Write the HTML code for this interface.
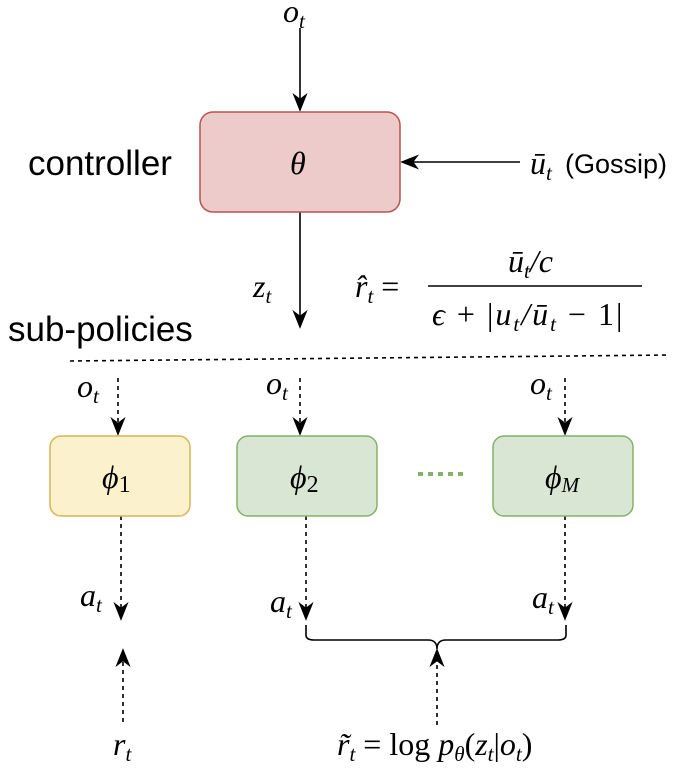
<!DOCTYPE html>
<html><head><meta charset="utf-8"><style>
body{margin:0;background:#fff}
svg text{font-family:"Liberation Serif",serif;font-style:italic}
.s{font-family:"Liberation Sans",sans-serif;font-style:normal}
</style></head><body>
<svg width="679" height="770" viewBox="0 0 679 770" xmlns="http://www.w3.org/2000/svg">
<defs>
<marker id="b" viewBox="0 0 10 10" refX="9" refY="5" markerWidth="19" markerHeight="19" orient="auto" markerUnits="userSpaceOnUse"><path d="M0,1 L10,5 L0,9 L3,5 Z" fill="#000"/></marker>
</defs>
<g stroke="#000" stroke-width="1.6" fill="none">
<line x1="300" y1="28" x2="300" y2="110" marker-end="url(#b)"/>
<line x1="520" y1="162" x2="402" y2="162" marker-end="url(#b)"/>
<line x1="300" y1="212" x2="300" y2="327" marker-end="url(#b)"/>
<line x1="70" y1="361" x2="670" y2="355" stroke-dasharray="4,4"/>
<g stroke-dasharray="4,4">
<line x1="118" y1="378" x2="118" y2="434" marker-end="url(#b)"/>
<line x1="300" y1="378" x2="300" y2="434" marker-end="url(#b)"/>
<line x1="565" y1="378" x2="565" y2="434" marker-end="url(#b)"/>
<line x1="121" y1="516" x2="121" y2="619" marker-end="url(#b)"/>
<line x1="306" y1="516" x2="306" y2="619" marker-end="url(#b)"/>
<line x1="565" y1="516" x2="565" y2="619" marker-end="url(#b)"/>
<line x1="123" y1="722" x2="123" y2="650" marker-end="url(#b)"/>
<line x1="437" y1="725" x2="437" y2="650" marker-end="url(#b)"/>
</g>
<path d="M306,625 V635 Q306,640 314,640 H428 Q437,640 437,649 Q437,640 446,640 H558 Q566,640 566,635 V625"/>
</g>
<rect x="200" y="112" width="200" height="100" rx="13" fill="#eccbca" stroke="#b85450" stroke-width="1.5"/>
<rect x="50" y="436" width="140" height="80" rx="11" fill="#fbf1cd" stroke="#d6b656" stroke-width="1.5"/>
<rect x="237" y="436" width="140" height="80" rx="11" fill="#d8e6d3" stroke="#82b366" stroke-width="1.5"/>
<rect x="493" y="436" width="140" height="80" rx="11" fill="#d8e6d3" stroke="#82b366" stroke-width="1.5"/>
<line x1="418" y1="474" x2="465" y2="474" stroke="#82b366" stroke-width="4" stroke-dasharray="5,5"/>
<g font-size="32" fill="#000">
<text x="283" y="22">o<tspan font-size="21" dy="6">t</tspan></text>
<text x="290" y="174">θ</text>
<text x="530" y="174">ū<tspan font-size="21" dy="6">t</tspan></text>
<text x="565" y="173" class="s" font-size="27">(Gossip)</text>
<text x="28" y="175" class="s" font-size="35">controller</text>
<text x="8" y="341" class="s" font-size="35">sub-policies</text>
<text x="253" y="297">z<tspan font-size="21" dy="6">t</tspan></text>
<text x="355" y="297">r̂<tspan font-size="21" dy="6">t</tspan><tspan dy="-6" font-style="normal"> =</tspan></text>
<line x1="428" y1="286" x2="642" y2="286" stroke="#000" stroke-width="1.6"/>
<text x="508" y="272">ū<tspan font-size="21" dy="6">t</tspan><tspan dy="-6">/c</tspan></text>
<text x="432" y="325" letter-spacing="2">ϵ <tspan font-style="normal">+ |</tspan>u<tspan font-size="21" dy="6">t</tspan><tspan dy="-6">/ū</tspan><tspan font-size="21" dy="6">t</tspan><tspan dy="-6" font-style="normal"> − 1|</tspan></text>
<text x="77" y="397">o<tspan font-size="21" dy="6">t</tspan></text>
<text x="266" y="394">o<tspan font-size="21" dy="6">t</tspan></text>
<text x="530" y="394">o<tspan font-size="21" dy="6">t</tspan></text>
<text x="102" y="488">ϕ<tspan font-size="24" font-style="normal" dy="4">1</tspan></text>
<text x="290" y="488">ϕ<tspan font-size="24" font-style="normal" dy="4">2</tspan></text>
<text x="545" y="488">ϕ<tspan font-size="21" dy="4">M</tspan></text>
<text x="80" y="606">a<tspan font-size="21" dy="6">t</tspan></text>
<text x="270" y="612">a<tspan font-size="21" dy="6">t</tspan></text>
<text x="532" y="608">a<tspan font-size="21" dy="6">t</tspan></text>
<text x="113" y="755">r<tspan font-size="21" dy="6">t</tspan></text>
<text x="337" y="755">r̃<tspan font-size="21" dy="6">t</tspan><tspan dy="-6" font-style="normal"> = log </tspan>p<tspan font-size="21" dy="6">θ</tspan><tspan dy="-6" font-style="normal">(</tspan>z<tspan font-size="21" dy="6">t</tspan><tspan dy="-6" font-style="normal">|</tspan>o<tspan font-size="21" dy="6">t</tspan><tspan dy="-6" font-style="normal">)</tspan></text>
</g>
</svg>
</body></html>
